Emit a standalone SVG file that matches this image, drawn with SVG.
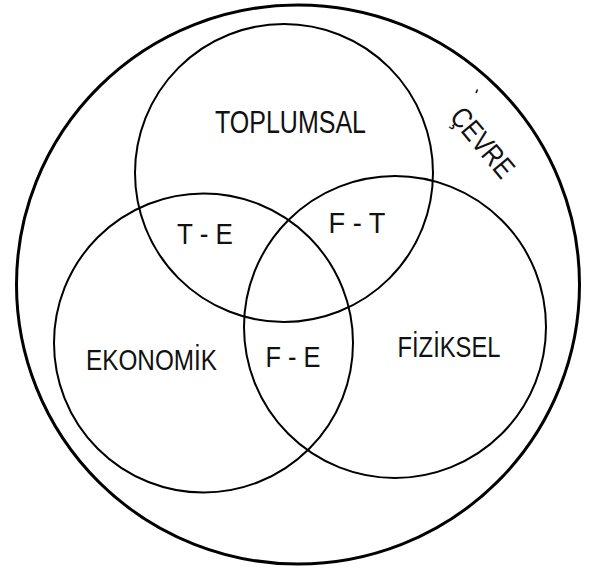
<svg xmlns="http://www.w3.org/2000/svg" width="597" height="571" viewBox="0 0 597 571">
<style>
.c{fill:none;stroke:#000;stroke-width:2}
.o{fill:none;stroke:#000;stroke-width:3}
.t{font-family:"Liberation Sans",Arial,sans-serif;font-size:29px;fill:#111}
</style>
<rect width="597" height="571" fill="#fff"/>
<g id="cevre">
<ellipse class="o" cx="298" cy="284.5" rx="281.5" ry="279.5"/>
<text class="t" transform="translate(475,149) rotate(50)" text-anchor="middle" textLength="82" lengthAdjust="spacingAndGlyphs">ÇEVRE</text>
<path d="M477.5,89.5 L476,93" stroke="#000" stroke-width="1.5"/>
</g>
<g id="toplumsal">
<circle class="c" cx="284" cy="173" r="149"/>
<text class="t" x="290.5" y="132.5" text-anchor="middle" textLength="151" lengthAdjust="spacingAndGlyphs" style="font-size:31px">TOPLUMSAL</text>
</g>
<g id="ekonomik">
<circle class="c" cx="203.5" cy="343" r="149.5"/>
<text class="t" x="151.5" y="369.5" text-anchor="middle" textLength="131" lengthAdjust="spacingAndGlyphs">EKONOMİK</text>
</g>
<g id="fiziksel">
<circle class="c" cx="395" cy="327" r="151"/>
<text class="t" x="449" y="357" text-anchor="middle" textLength="103" lengthAdjust="spacingAndGlyphs">FİZİKSEL</text>
</g>
<g id="te"><text class="t" x="205" y="244" text-anchor="middle" textLength="56" lengthAdjust="spacingAndGlyphs">T - E</text></g>
<g id="ft"><text class="t" x="357" y="233" text-anchor="middle" textLength="57" lengthAdjust="spacingAndGlyphs">F - T</text></g>
<g id="fe"><text class="t" x="293" y="367" text-anchor="middle" textLength="55" lengthAdjust="spacingAndGlyphs">F - E</text></g>
<g id="connectors"></g>
</svg>
